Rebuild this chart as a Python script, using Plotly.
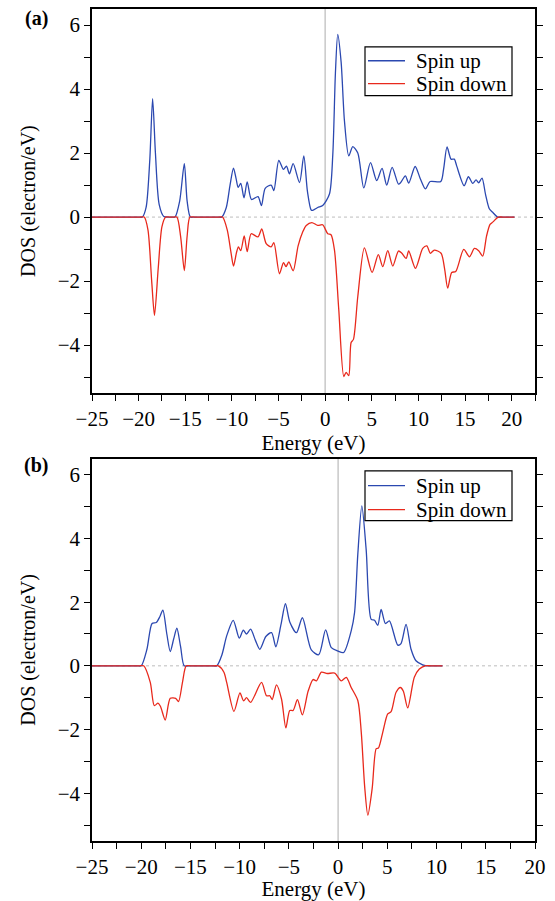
import plotly.graph_objects as go

# ---------------- data ----------------
# Panel (a)
a_up_E = [-25, -22, -20.5, -20.0, -19.6, -19.2, -18.8, -18.5, -18.2, -17.8, -17.3, -16.8, -16.4, -16.1,
          -15.6, -15.1, -14.8, -14.45, -14.0, -13.0, -12.0, -11.5,
          -11.1, -10.6, -10.2, -9.83, -9.55, -9.33, -9.05, -8.7, -8.36, -7.9, -7.2, -6.83, -6.43,
          -5.79, -5.5, -4.97, -4.47, -4.15, -3.83, -3.43, -2.75, -2.29, -1.9, -1.5, -1.33, -0.8,
          -0.26, 0.46, 0.82, 1.1, 1.35, 1.71, 2.07, 2.53, 2.96, 3.5, 4.14, 4.86, 5.53, 6.1, 6.6,
          7.18, 7.86, 8.1, 8.6, 8.96, 9.65, 10.2, 10.75, 11.25, 12.4, 12.7, 13.07, 13.5, 13.85,
          14.1, 14.9, 15.36, 15.82, 16.18, 16.46, 16.82, 17.2, 17.6, 17.96, 18.5, 19.0, 19.5, 20.3]
a_up_D = [0, 0, 0, 0, 0, 0.3, 1.8, 3.70, 2.0, 0.4, 0.02, 0, 0, 0,
          0.5, 1.67, 0.5, 0, 0, 0, 0, 0,
          0, 0.3, 1.0, 1.53, 1.2, 0.93, 1.05, 0.6, 1.1, 0.55, 0.64, 0.36, 0.9,
          1.0, 0.83, 1.77, 1.49, 1.59, 1.35, 1.67, 1.08, 1.91, 0.8, 0.22, 0.21, 0.3,
          0.36, 0.72, 1.96, 4.5, 5.71, 4.85, 3.0, 1.91, 2.2, 2.0, 0.91, 1.7, 1.14, 1.52, 1.0,
          1.55, 1.03, 1.08, 1.29, 1.06, 1.58, 1.2, 0.88, 1.11, 1.11, 1.5, 2.19, 1.81, 1.81,
          1.6, 0.98, 1.26, 1.05, 1.16, 1.07, 1.22, 0.7, 0.26, 0.15, 0, 0, 0, 0]

a_dn_E = [-25, -22, -20.5, -19.9, -19.4, -19.0, -18.6, -18.3, -17.9, -17.5, -17.1, -16.7, -16.3, -15.9,
          -15.5, -15.1, -14.8, -14.5, -14.0, -13.0, -12.0, -11.4,
          -11.0, -10.5, -10.1, -9.83, -9.5, -9.3, -9.05, -8.68, -8.36, -7.93, -7.2, -6.8, -6.32,
          -5.79, -5.5, -4.9, -4.47, -4.2, -3.9, -3.43, -2.9, -2.4, -2.03, -1.43, -0.8, -0.27,
          0.28, 0.63, 1.0, 1.46, 2.0, 2.25, 2.53, 2.78, 3.03, 3.5, 4.21, 5.03, 5.7, 6.18, 6.71,
          7.25, 7.86, 8.2, 8.68, 8.96, 9.68, 10.46, 10.9, 11.28, 11.7, 12.43, 12.8, 13.14, 13.57,
          14.0, 14.86, 15.47, 16.0, 16.46, 16.89, 17.3, 17.68, 18.0, 18.55, 19.0, 19.5, 20.3]
a_dn_D = [0, 0, 0, 0, 0, -0.4, -2.0, -3.07, -1.6, -0.3, 0, 0, 0, 0,
          -0.6, -1.67, -0.6, 0, 0, 0, 0, 0,
          0, -0.4, -1.1, -1.53, -1.1, -0.93, -1.05, -0.59, -1.08, -0.52, -0.62, -0.37, -0.83,
          -0.93, -0.8, -1.77, -1.42, -1.55, -1.4, -1.68, -0.9, -0.46, -0.26, -0.17, -0.26, -0.24,
          -0.52, -0.55, -1.03, -2.89, -4.98, -4.85, -4.95, -3.92, -3.82, -2.48, -0.96, -1.73, -1.17, -1.55, -1.05,
          -1.53, -1.06, -1.12, -1.29, -1.06, -1.6, -0.98, -0.9, -1.13, -1.03, -1.13, -1.6, -2.22, -1.73,
          -1.7, -1.01, -1.24, -0.98, -1.05, -1.22, -0.6, -0.23, -0.15, 0, 0, 0, 0]

# Panel (b)
b_up_E = [-25, -22.5, -21.0, -20.4, -20.0, -19.42, -18.9, -18.47, -18.1, -17.8, -17.4, -17.05, -16.7,
          -16.38, -16.0, -15.64, -15.2, -14.5, -13.5, -12.8,
          -12.33, -11.8, -11.32, -10.65, -10.04, -9.63, -9.3, -8.89, -8.4, -7.95, -7.34, -6.76, -6.33,
          -5.8, -5.35, -4.91, -4.23, -3.63, -2.72, -1.97, -1.27, -0.69, -0.05, 0.56, 1.33, 1.67,
          2.0, 2.41, 2.85, 3.36, 3.7, 4.03, 4.37, 4.81, 5.21, 6.06, 6.39, 6.9, 7.41, 7.91, 8.59, 9.0,
          9.5, 10.0, 10.6]
b_up_D = [0, 0, 0, 0, 0, 0.52, 1.33, 1.36, 1.55, 1.75, 1.0, 0.45, 0.85,
          1.18, 0.6, 0, 0, 0, 0, 0,
          0, 0.35, 0.94, 1.43, 0.87, 1.12, 1.0, 1.15, 0.8, 0.52, 0.92, 1.04, 0.6,
          1.3, 1.95, 1.38, 1.04, 1.51, 0.5, 0.35, 1.13, 0.57, 0.47, 0.42, 1.1, 1.67,
          3.5, 5.02, 3.65, 1.46, 1.43, 1.27, 1.77, 1.33, 1.41, 0.65, 0.7, 1.3, 0.52, 0.16, 0.03, 0,
          0, 0, 0]

b_dn_E = [-25, -22.5, -21.0, -20.2, -19.75, -19.08, -18.67, -18.3, -18.05, -17.56, -17.05, -16.5,
          -16.21, -15.8, -15.43, -15.0, -14.3, -13.4, -12.6,
          -12.16, -11.6, -11.32, -10.58, -9.97, -9.6, -9.3, -8.89, -7.78, -7.27, -6.94, -6.7, -6.26,
          -5.75, -5.31, -4.91, -4.57, -4.13, -3.63, -3.05, -2.55, -2.2, -1.7, -1.1, -0.35, 0.32,
          0.83, 1.33, 2.0, 2.35, 2.7, 3.02, 3.46, 3.87, 4.1, 4.54, 5.04, 5.38, 5.89, 6.33, 6.63,
          7.07, 7.74, 8.25, 8.86, 9.4, 10.0, 10.6]
b_dn_D = [0, 0, 0, 0, 0, -0.52, -1.25, -1.17, -1.27, -1.7, -1.02, -1.02,
          -1.12, -0.5, 0, 0, 0, 0, 0,
          0, -0.2, -0.52, -1.43, -0.85, -1.1, -1.0, -1.15, -0.52, -0.94, -0.94, -1.06, -0.6,
          -1.04, -1.95, -1.4, -1.4, -1.06, -1.54, -0.8, -0.43, -0.47, -0.2, -0.24, -0.23, -0.47,
          -0.36, -0.68, -1.09, -2.08, -3.8, -4.69, -3.85, -2.6, -2.58, -2.08, -1.51, -1.44, -0.83, -0.68, -0.8,
          -1.32, -0.36, -0.1, 0, 0, 0, 0]

series_names = ["Spin up", "Spin down"]
x_ticks = [-25, -20, -15, -10, -5, 0, 5, 10, 15, 20]
y_ticks = [-4, -2, 0, 2, 4, 6]

BLUE = "#2b48b0"
RED = "#e8291c"
COLORS = [BLUE, RED]
FONT = "Times New Roman, Liberation Serif, serif"

fig = go.Figure()

def add(E, D, name, color, xa, ya):
    fig.add_trace(go.Scatter(x=E, y=D, name=name, mode="lines",
                             line=dict(color=color, width=1.3, shape="spline", smoothing=0.75),
                             xaxis=xa, yaxis=ya, showlegend=False))

add(a_up_E, a_up_D, series_names[0], BLUE, "x", "y")
add(a_dn_E, a_dn_D, series_names[1], RED, "x", "y")
add(b_up_E, b_up_D, series_names[0], BLUE, "x2", "y2")
add(b_dn_E, b_dn_D, series_names[1], RED, "x2", "y2")

common_x = dict(showline=True, linecolor="black", linewidth=1.5, mirror=True,
                ticks="outside", ticklen=6, tickwidth=1.2, tickcolor="black",
                tickvals=x_ticks, showgrid=False, zeroline=False,
                minor=dict(ticks="outside", ticklen=6, tickwidth=1.2, tickcolor="black", dtick=2.5, tick0=0),
                tickfont=dict(family=FONT, size=21, color="black"),
                title=dict(text="Energy (eV)", font=dict(family=FONT, size=21, color="black"), standoff=0))
common_y = dict(showline=True, linecolor="black", linewidth=1.5, mirror="ticks",
                ticks="outside", ticklen=6, tickwidth=1.2, tickcolor="black",
                tickvals=y_ticks, showgrid=False, zeroline=False, range=[-5.5, 6.5],
                minor=dict(ticks="outside", ticklen=6, tickwidth=1.2, tickcolor="black", dtick=1, tick0=0),
                tickfont=dict(family=FONT, size=21, color="black"),
                title=dict(text="DOS (electron/eV)", font=dict(family=FONT, size=20, color="black"), standoff=17))

H = 901
mt, mb = 7, 58
ph = H - mt - mb
a_bot = (H - mb - 393) / ph
b_top = (H - mb - 459) / ph
PW = 443

def px(xp):
    return (xp - 92) / PW

def py(yp):
    return (H - mb - yp) / ph

fig.update_layout(
    width=555, height=901,
    margin=dict(l=92, r=20, t=mt, b=mb),
    paper_bgcolor="white", plot_bgcolor="white",
    font=dict(family=FONT, color="black"),
    xaxis=dict(common_x, range=[-25, 22.5], anchor="y", domain=[0, 1]),
    yaxis=dict(common_y, anchor="x", domain=[a_bot, 1]),
    xaxis2=dict(common_x, range=[-25, 20], anchor="y2", domain=[0, 1]),
    yaxis2=dict(common_y, anchor="x2", domain=[0, b_top]),
    showlegend=False,
)

# zero reference lines
for xr, yr in [("x", "y"), ("x2", "y2")]:
    fig.add_shape(type="line", xref=f"{xr} domain", yref=yr, x0=0, x1=1, y0=0, y1=0,
                  line=dict(color="#bdbdbd", width=1, dash="dot"), layer="below")
    fig.add_shape(type="line", xref=xr, yref=f"{yr} domain", x0=0, x1=0, y0=0, y1=1,
                  line=dict(color="#c8c8c8", width=1.5), layer="below")

# legend boxes (one per panel)
for top, bot, rows in [(45, 94, (59, 82)), (471, 521, (486, 510))]:
    fig.add_shape(type="rect", xref="paper", yref="paper", x0=px(365), x1=px(512),
                  y0=py(bot), y1=py(top), line=dict(color="black", width=1.2),
                  fillcolor="white", layer="above")
    for name, col, ry in zip(series_names, COLORS, rows):
        fig.add_shape(type="line", xref="paper", yref="paper", x0=px(368), x1=px(405),
                      y0=py(ry), y1=py(ry), line=dict(color=col, width=1.3), layer="above")
        fig.add_annotation(text=name, xref="paper", yref="paper", x=px(414), y=py(ry),
                           xanchor="left", yanchor="middle", showarrow=False,
                           font=dict(family=FONT, size=21, color="black"))

# panel labels
fig.add_annotation(text="<b>(a)</b>", xref="paper", yref="paper", x=px(36), y=py(17),
                   xanchor="center", yanchor="middle", showarrow=False,
                   font=dict(family=FONT, size=20, color="black"))
fig.add_annotation(text="<b>(b)</b>", xref="paper", yref="paper", x=px(36), y=py(466),
                   xanchor="center", yanchor="middle", showarrow=False,
                   font=dict(family=FONT, size=20, color="black"))

fig.write_html("out.html", config={"displayModeBar": False},
               post_script="document.body.style.margin='0';document.body.style.overflow='hidden';")
